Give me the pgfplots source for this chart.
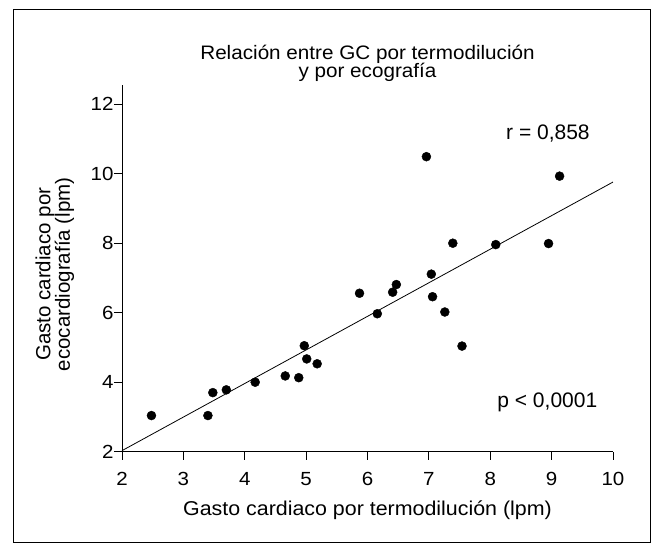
\documentclass[border=0pt]{standalone}
\usepackage{fontspec}
\setmainfont{Liberation Sans}
\newfontfamily\tickfont{Liberation Sans}[FakeStretch=1.08]
\newfontfamily\titfont{Liberation Sans}[FakeStretch=1.06]
\newfontfamily\xlabfont{Liberation Sans}[FakeStretch=1.07]
\usepackage{pgfplots}
\pgfplotsset{compat=1.18}
\begin{document}
\begin{tikzpicture}[x=1pt,y=1pt]
\path[use as bounding box] (-122,-91.3) rectangle (535,451.7);
\draw[line width=0.9pt] (-109,-90.3) rectangle (528.7,442.7);
\begin{axis}[
  scale only axis,
  width=491pt, height=366.6pt,
  xmin=2, xmax=10, ymin=2, ymax=12.55,
  axis lines=left,
  axis line style={-, line width=0.9pt},
  tick align=outside,
  major tick length=8pt,
  every tick/.style={black, line width=0.9pt},
  xtick={2,3,...,10},
  ytick={2,4,...,12},
  /pgf/number format/assume math mode=true,
  tick label style={font=\tickfont\fontsize{19}{19}\selectfont},
  xticklabel style={yshift=-9pt},
  yticklabel style={xshift=3pt},
  title={Relación entre GC por termodilución\\y por ecografía},
  title style={font=\titfont\fontsize{19.5}{18.7}\selectfont, align=center, at={(axis description cs:0.5,1)}, anchor=south, inner sep=0pt, yshift=-3pt},
  xlabel={Gasto cardiaco por termodilución (lpm)},
  xlabel style={font=\xlabfont\fontsize{20}{20}\selectfont, at={(axis description cs:0.5,-0.1727)}, anchor=base, inner sep=0pt},
  ylabel={Gasto cardiaco por\\ecocardiografía (lpm)},
  ylabel style={font=\fontsize{20.5}{19.5}\selectfont, align=center, at={(axis description cs:-0.137,0.484)}, anchor=center, inner sep=0pt},
  clip=false,
]
\addplot[black, line width=0.8pt, no marks] coordinates {(2,2.03) (10,9.76)};
\addplot[only marks, mark=*, mark size=4.5pt, black] coordinates {
(2.48,3.04) (3.40,3.04) (3.48,3.70) (3.70,3.78) (4.17,4.00)
(4.66,4.18) (4.88,4.13) (4.97,5.05) (5.01,4.67) (5.18,4.53)
(5.87,6.56) (6.16,5.97) (6.41,6.59) (6.47,6.81) (7.06,6.46)
(7.26,6.02) (7.54,5.04) (6.96,10.49) (9.13,9.93) (7.39,8.00)
(8.09,7.96) (8.95,7.99) (7.04,7.11)
};
\node[font=\fontsize{21}{21}\selectfont, anchor=base] at (axis cs:8.94,10.97) {r = 0,858};
\node[font=\fontsize{21}{21}\selectfont, anchor=base] at (axis cs:8.93,3.26) {p < 0,0001};
\end{axis}
\end{tikzpicture}
\end{document}
